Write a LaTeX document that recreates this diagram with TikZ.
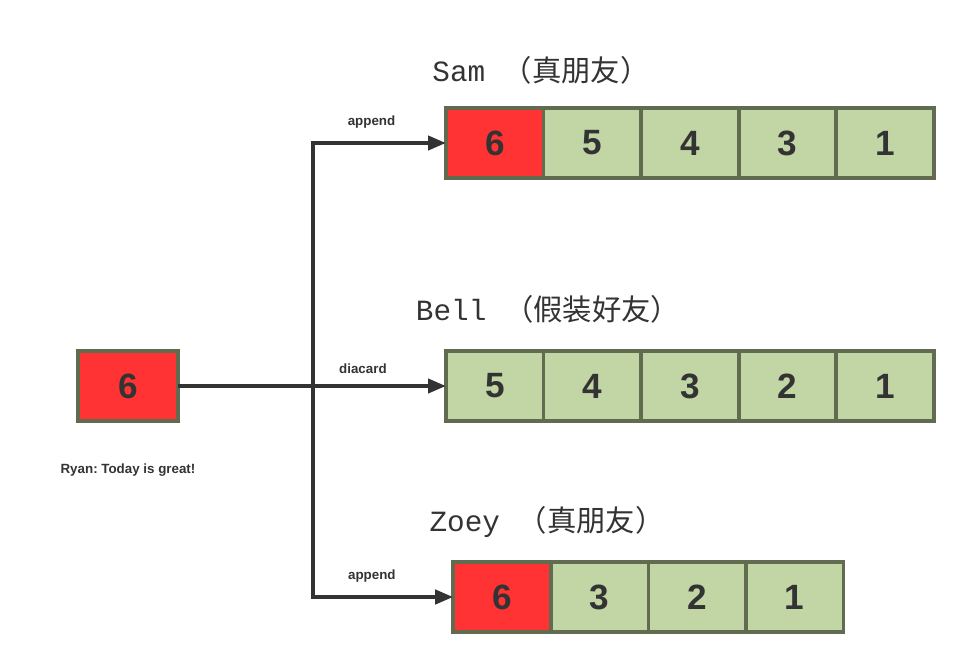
\documentclass[tikz,border=0pt]{standalone}
\usepackage{fontspec}
\setmainfont{Liberation Sans}
\newfontfamily\cjkfont{Noto Sans CJK SC}
\newfontfamily\monofont{Liberation Mono}
\usepackage{xcolor}
\usetikzlibrary{positioning, arrows.meta}

\definecolor{cellred}{HTML}{FF3333}
\definecolor{cellgreen}{HTML}{C2D5A5}
\definecolor{cellborder}{HTML}{606B50}
\definecolor{inkgray}{HTML}{333333}

\frenchspacing
\begin{document}
\begin{tikzpicture}[
  x=0.02cm, y=-0.02cm,
  cell/.style={draw=cellborder, line width=0.075cm, outer sep=0pt, minimum width=1.952cm,
               minimum height=1.4cm, inner sep=0pt, text=inkgray,
               font=\fontsize{20}{20}\selectfont\bfseries},
  redcell/.style={cell, fill=cellred},
  greencell/.style={cell, fill=cellgreen},
  title/.style={text=inkgray, font=\fontsize{16.7}{17}\selectfont},
  lbl/.style={text=inkgray, font=\fontsize{7.6}{8}\selectfont\bfseries, inner sep=2pt},
  arrow/.style={-{Triangle[length=0.36cm, width=0.28cm]}, line width=0.08cm, draw=inkgray}
]
\useasboundingbox (0,0) rectangle (966,663);

% source
\node[redcell, minimum width=2cm] (src) at (128,386) {6};
\node[lbl] (ryan) at (128,470) {Ryan: Today is great!};

% Sam
\node[title] (samtitle) at (541,70) {{\monofont Sam }{\cjkfont （真朋友）}};
\node[redcell] (sam1) at (494.8,143) {6};
\node[greencell, right=0pt of sam1] (sam2) {5};
\node[greencell, right=0pt of sam2] (sam3) {4};
\node[greencell, right=0pt of sam3] (sam4) {3};
\node[greencell, right=0pt of sam4] (sam5) {1};

% Bell
\node[title] (belltitle) at (548,309) {{\monofont Bell }{\cjkfont （假装好友）}};
\node[greencell] (bell1) at (494.8,386) {5};
\node[greencell, right=0pt of bell1] (bell2) {4};
\node[greencell, right=0pt of bell2] (bell3) {3};
\node[greencell, right=0pt of bell3] (bell4) {2};
\node[greencell, right=0pt of bell4] (bell5) {1};

% Zoey
\node[title] (zoeytitle) at (547,522) {{\monofont Zoey }{\cjkfont （真朋友）}};
\node[redcell] (zoey1) at (502,597) {6};
\node[greencell, right=0pt of zoey1] (zoey2) {3};
\node[greencell, right=0pt of zoey2] (zoey3) {2};
\node[greencell, right=0pt of zoey3] (zoey4) {1};

% connectors
\coordinate (split) at (313,386);
\draw[arrow] (src.east) -- node[lbl, pos=0.69, above=4pt] (lbldia) {diacard} (bell1.west);
\draw[arrow] (split) |- node[lbl, pos=0.72, above=5pt] (lblsam) {append} (sam1.west);
\draw[arrow] (split) |- node[lbl, pos=0.71, above=5pt] (lblzoey) {append} (zoey1.west);
\end{tikzpicture}
\end{document}
